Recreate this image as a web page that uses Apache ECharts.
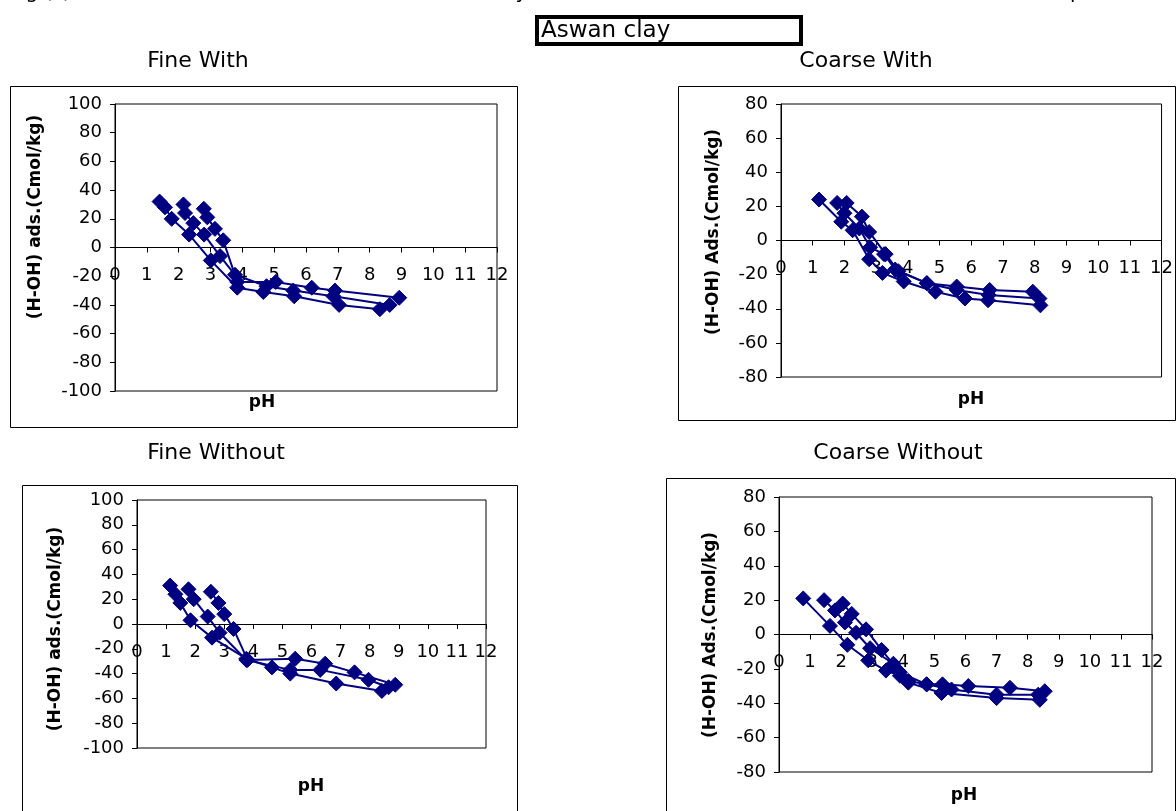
<!DOCTYPE html>
<html>
<head>
<meta charset="utf-8">
<title>Aswan clay</title>
<script src="https://cdn.jsdelivr.net/npm/echarts@6/dist/echarts.min.js"></script>
<style>
  html, body { margin: 0; padding: 0; background: #ffffff; }
  #chart { width: 1176px; height: 811px; }
</style>
</head>
<body>
<div id="chart"></div>
<script>
// Titration curves, (H-OH) adsorbed vs pH, three runs per panel: [pH, Cmol/kg]
const fineWith1 = [[1.4,32],[1.57,28],[1.78,20],[2.33,9],[3.01,-9],[3.84,-28],[4.66,-31],[5.63,-34],[7.04,-40],[8.32,-43]];
const fineWith2 = [[2.15,30],[2.2,24],[2.46,17],[2.8,9],[3.3,-6],[3.77,-19],[4.76,-27],[5.6,-30],[6.86,-34],[8.63,-40]];
const fineWith3 = [[2.79,27],[2.9,21],[3.14,13],[3.4,5],[3.84,-24],[5.05,-24],[6.18,-28],[6.91,-30],[8.93,-35]];

const coarseWith1 = [[1.2,24],[1.9,11],[2.26,6],[2.78,-11],[3.2,-19],[3.87,-24],[4.87,-30],[5.8,-34],[6.53,-35],[8.18,-38]];
const coarseWith2 = [[1.77,22],[2.0,16],[2.47,7],[2.81,-4],[3.25,-8],[3.6,-17],[4.6,-25],[5.54,-29],[6.55,-32],[8.15,-34]];
const coarseWith3 = [[2.07,22],[2.55,14],[2.78,5],[3.3,-8],[3.7,-18],[4.6,-25],[5.54,-27],[6.58,-29],[7.94,-30]];

const fineWithout1 = [[1.14,31],[1.32,24],[1.49,17],[1.84,3],[2.58,-11],[3.76,-28],[4.64,-35],[5.27,-40],[6.85,-48],[8.42,-54]];
const fineWithout2 = [[1.77,28],[1.95,20],[2.43,6],[2.84,-7],[3.76,-29],[5.27,-37],[6.3,-37],[7.96,-45],[8.65,-51]];
const fineWithout3 = [[2.54,26],[2.8,17],[3.0,8],[3.32,-4],[3.8,-29],[5.44,-28],[6.47,-32],[7.48,-39],[8.88,-49]];

const coarseWithout1 = [[0.78,21],[1.64,5],[2.2,-6],[2.87,-15],[3.44,-21],[3.89,-24],[4.16,-28],[5.23,-34],[7.0,-37],[8.39,-38]];
const coarseWithout2 = [[1.45,20],[1.8,14],[2.12,7],[2.48,1],[2.93,-8],[3.68,-17],[4.16,-27],[4.75,-29],[5.55,-32],[7.0,-35],[8.34,-35]];
const coarseWithout3 = [[2.05,18],[2.34,12],[2.8,3],[3.3,-9],[3.89,-22],[4.75,-29],[5.26,-29],[6.09,-30],[7.43,-31],[8.55,-33]];

// Panel headings and axis captions
const mainLabel = 'Aswan clay';
const caption = 'Fig (?) Potentiometric titration curves of Aswan clay fine and coarse fractions with and without carbonate phase';
const panelTitles = ['Fine With', 'Coarse With', 'Fine Without', 'Coarse Without'];
const yTitles = ['(H-OH) ads.(Cmol/kg)', '(H-OH) Ads.(Cmol/kg)', '(H-OH) ads.(Cmol/kg)', '(H-OH) Ads.(Cmol/kg)'];
const xTitle = 'pH';
const yRanges = [[-100, 100], [-80, 80], [-100, 100], [-80, 80]];
const xRange = [0, 12];

const FONT = '"DejaVu Sans", "Liberation Sans", Arial, sans-serif';
const NAVY = '#000080';

const chart = echarts.init(document.getElementById('chart'), null, { renderer: 'canvas' });

// Plot-area rectangles for the four panels
const grids = [
  { left: 115, top: 104, width: 382, height: 287 },
  { left: 781, top: 104, width: 384, height: 273 },
  { left: 137, top: 500, width: 349, height: 248 },
  { left: 779, top: 497, width: 373, height: 275 }
];
// Outer chart frames
const frames = [
  { x: 10, y: 86, w: 507, h: 341 },
  { x: 678, y: 86, w: 497, h: 334 },
  { x: 22, y: 485, w: 495, h: 330 },
  { x: 666, y: 478, w: 509, h: 337 }
];
const titlePos = [[198, 61], [866, 61], [216, 453], [898, 453]];
const phPos = [[262, 403], [971, 400], [311, 787], [964, 796]];
const yTitlePos = [[36, 217], [714, 232], [56, 629], [711, 635]];

const panelSeries = [
  [fineWith1, fineWith2, fineWith3],
  [coarseWith1, coarseWith2, coarseWith3],
  [fineWithout1, fineWithout2, fineWithout3],
  [coarseWithout1, coarseWithout2, coarseWithout3]
];

const option = {
  backgroundColor: '#ffffff',
  animation: false,
  grid: grids.map(g => Object.assign({
    show: true, borderColor: '#000000', borderWidth: 1, backgroundColor: 'transparent', containLabel: false
  }, g)),
  // the x axis is lifted from the bottom edge onto the zero line of its panel
  xAxis: grids.map((g, i) => ({
    gridIndex: i,
    type: 'value',
    position: 'bottom',
    offset: -g.height * (0 - yRanges[i][0]) / (yRanges[i][1] - yRanges[i][0]),
    min: xRange[0], max: xRange[1], interval: 1,
    axisLine: { show: true, onZero: false, lineStyle: { color: '#000000', width: 1 } },
    axisTick: { show: true, length: 5, lineStyle: { color: '#000000' } },
    axisLabel: { show: true, color: '#000000', fontFamily: FONT, fontSize: 18, margin: 19 },
    splitLine: { show: false }
  })),
  yAxis: grids.map((g, i) => ({
    gridIndex: i,
    type: 'value',
    min: yRanges[i][0], max: yRanges[i][1], interval: 20,
    axisLine: { show: true, onZero: false, lineStyle: { color: '#000000', width: 1 } },
    axisTick: { show: true, length: 5, lineStyle: { color: '#000000' } },
    axisLabel: { show: true, color: '#000000', fontFamily: FONT, fontSize: 18, margin: 13 },
    splitLine: { show: false }
  })),
  series: [],
  graphic: []
};

panelSeries.forEach((list, i) => {
  list.forEach(data => {
    option.series.push({
      type: 'line',
      xAxisIndex: i,
      yAxisIndex: i,
      data: data,
      symbol: 'diamond',
      symbolSize: 15,
      showSymbol: true,
      lineStyle: { color: NAVY, width: 2 },
      itemStyle: { color: NAVY, borderColor: NAVY },
      emphasis: { disabled: true },
      silent: true
    });
  });
});

// Frames, panel titles, axis captions
frames.forEach(f => {
  option.graphic.push({
    type: 'rect', z: -1, silent: true,
    shape: { x: f.x + 0.5, y: f.y + 0.5, width: f.w, height: f.h },
    style: { fill: 'none', stroke: '#000000', lineWidth: 1 }
  });
});
panelTitles.forEach((t, i) => {
  option.graphic.push({
    type: 'text', silent: true,
    x: titlePos[i][0], y: titlePos[i][1],
    style: { text: t, fill: '#000000', font: '22px ' + FONT, align: 'center', verticalAlign: 'middle' }
  });
  option.graphic.push({
    type: 'text', silent: true,
    x: phPos[i][0], y: phPos[i][1],
    style: { text: xTitle, fill: '#000000', font: 'bold 17px ' + FONT, align: 'center', verticalAlign: 'middle' }
  });
  option.graphic.push({
    type: 'text', silent: true,
    x: yTitlePos[i][0], y: yTitlePos[i][1],
    rotation: Math.PI / 2,
    style: { text: yTitles[i], fill: '#000000', font: 'bold 17px ' + FONT, align: 'center', verticalAlign: 'middle' }
  });
});

// Boxed sample name
option.graphic.push({
  type: 'rect', silent: true,
  shape: { x: 537, y: 17, width: 264, height: 27 },
  style: { fill: '#ffffff', stroke: '#000000', lineWidth: 4 }
});
option.graphic.push({
  type: 'text', silent: true,
  x: 541, y: 31,
  style: { text: mainLabel, fill: '#000000', font: '23px ' + FONT, align: 'left', verticalAlign: 'middle' }
});

// Figure caption running off the top edge
option.graphic.push({
  type: 'text', silent: true,
  x: 10, y: 3,
  style: { text: caption, fill: '#000000', font: '20px ' + FONT, align: 'left', verticalAlign: 'bottom' }
});

chart.setOption(option);
</script>
</body>
</html>
